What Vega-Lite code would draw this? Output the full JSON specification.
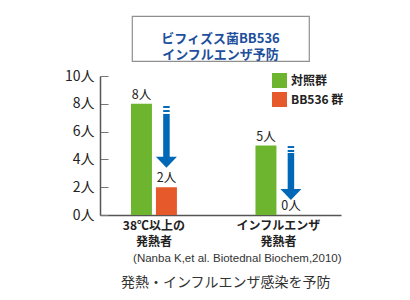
{
  "$schema": "https://vega.github.io/schema/vega-lite/v6.json",
  "padding": {"left": 64, "top": 15, "right": 0, "bottom": 0},
  "background": "white",
  "center": true,
  "bounds": "flush",
  "spacing": 15,
  "config": {
    "font": "Noto Sans CJK JP",
    "view": {"stroke": null}
  },
  "resolve": {"legend": {"color": "independent"}},
  "datasets": {
    "bars": [
      {"group": "38℃以上の\n発熱者", "series": "対照群", "value": 8, "label": "8人"},
      {"group": "38℃以上の\n発熱者", "series": "BB536 群", "value": 2, "label": "2人"},
      {"group": "インフルエンザ\n発熱者", "series": "対照群", "value": 5, "label": "5人"},
      {"group": "インフルエンザ\n発熱者", "series": "BB536 群", "value": 0, "label": "0人"}
    ],
    "shafts": [
      {"group": "38℃以上の\n発熱者", "series": "BB536 群", "value": 7.84, "bottom": 7.70},
      {"group": "38℃以上の\n発熱者", "series": "BB536 群", "value": 7.55, "bottom": 7.41},
      {"group": "38℃以上の\n発熱者", "series": "BB536 群", "value": 7.27, "bottom": 4.10},
      {"group": "インフルエンザ\n発熱者", "series": "BB536 群", "value": 4.96, "bottom": 4.82},
      {"group": "インフルエンザ\n発熱者", "series": "BB536 群", "value": 4.68, "bottom": 4.53},
      {"group": "インフルエンザ\n発熱者", "series": "BB536 群", "value": 4.46, "bottom": 1.84}
    ],
    "heads": [
      {"group": "38℃以上の\n発熱者", "series": "BB536 群", "value": 3.81},
      {"group": "インフルエンザ\n発熱者", "series": "BB536 群", "value": 1.49}
    ],
    "heading": [
      {"text": "ビフィズス菌BB536\nインフルエンザ予防"}
    ]
  },
  "vconcat": [
    {
      "width": 177,
      "height": 45,
      "view": {"stroke": "#8f8f8f", "strokeWidth": 1.2},
      "data": {"name": "heading"},
      "mark": {"type": "text", "lineBreak": "\n", "fontSize": 13, "fontWeight": "bold", "color": "#1d4f9c", "lineHeight": 16, "baseline": "middle", "align": "center"},
      "encoding": {"text": {"field": "text"}}
    },
    {
      "width": 241,
      "height": 139,
      "title": {"text": "発熱・インフルエンザ感染を予防", "orient": "bottom", "anchor": "start", "frame": "group", "dx": 21, "fontSize": 14, "fontWeight": "normal", "color": "#333333", "offset": 12},
      "encoding": {
        "x": {
          "field": "group", "type": "nominal", "sort": null,
          "scale": {"paddingInner": 0.631, "paddingOuter": 0.2835, "align": 0.439},
          "axis": {
            "labelExpr": "split(datum.value, '\\n')",
            "labelAngle": 0, "labelFontSize": 12, "labelFontWeight": "bold", "labelColor": "#222222",
            "labelLineHeight": 16, "labelPadding": 5, "tickSize": 0,
            "domainColor": "#555555", "domainWidth": 1.5,
            "title": "(Nanba K,et al. Biotednal Biochem,2010)",
            "titleFont": "Liberation Sans",
            "titleFontSize": 11.5, "titleFontWeight": "normal", "titleColor": "#333333",
            "titleAnchor": "end", "titlePadding": 5
          }
        },
        "xOffset": {"field": "series", "type": "nominal", "sort": ["対照群", "BB536 群"], "scale": {"paddingInner": 0.16, "paddingOuter": 0}},
        "y": {
          "field": "value", "type": "quantitative",
          "scale": {"domain": [0, 10]},
          "axis": {
            "values": [0, 2, 4, 6, 8, 10], "title": null, "grid": false,
            "labelExpr": "datum.value + '人'", "labelFontSize": 14, "labelColor": "#222222",
            "labelOverlap": false, "labelFlush": false,
            "tickSize": -8, "tickColor": "#777777", "tickWidth": 1,
            "labelPadding": 14, "domainColor": "#555555", "domainWidth": 1.5
          }
        }
      },
      "layer": [
        {
          "data": {"name": "bars"},
          "mark": {"type": "bar"},
          "encoding": {
            "color": {
              "field": "series", "type": "nominal",
              "scale": {"domain": ["対照群", "BB536 群"], "range": ["#6db52f", "#e5592a"]},
              "legend": {
                "title": null, "orient": "none", "legendX": 172, "legendY": -3,
                "symbolType": "square", "symbolSize": 225, "symbolStrokeWidth": 0,
                "labelFontSize": 12, "labelFontWeight": "bold", "labelColor": "#222222",
                "rowPadding": 4, "labelOffset": 4, "padding": 0
              }
            }
          }
        },
        {
          "data": {"name": "bars"},
          "mark": {"type": "text", "baseline": "bottom", "dy": -2, "fontSize": 12.5, "color": "#222222"},
          "encoding": {
            "text": {"field": "label"}
          }
        },
        {
          "data": {"name": "shafts"},
          "mark": {"type": "bar", "width": 6.5, "color": "#0068b6"},
          "encoding": {
            "y2": {"field": "bottom"}
          }
        },
        {
          "data": {"name": "heads"},
          "mark": {"type": "point", "shape": "M-1,-0.5L1,-0.5L0,0.55Z", "filled": true, "size": 441, "color": "#0068b6", "opacity": 1, "strokeWidth": 0}
        }
      ]
    }
  ]
}
